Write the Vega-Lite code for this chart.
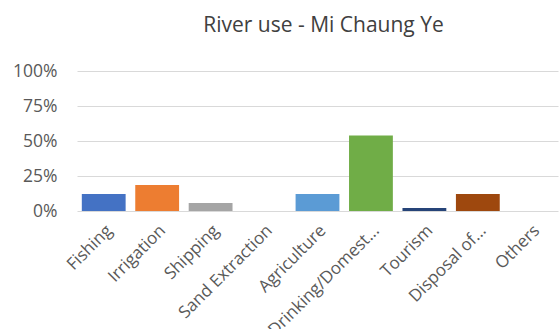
{
  "$schema": "https://vega.github.io/schema/vega-lite/v6.json",
  "autosize": {"type": "none"},
  "width": 481,
  "height": 140,
  "padding": {"left": 77, "top": 71, "right": 1, "bottom": 118},
  "background": "white",
  "title": {
    "text": "River use - Mi Chaung Ye",
    "font": "Open Sans",
    "fontSize": 21,
    "fontWeight": "normal",
    "color": "#404040",
    "anchor": "middle",
    "offset": 26,
    "dx": 6
  },
  "data": {
    "values": [
      {"use": "Fishing", "share": 0.121},
      {"use": "Irrigation", "share": 0.185},
      {"use": "Shipping", "share": 0.057},
      {"use": "Sand Extraction", "share": 0},
      {"use": "Agriculture", "share": 0.121},
      {"use": "Drinking/Domest...", "share": 0.54},
      {"use": "Tourism", "share": 0.021},
      {"use": "Disposal of...", "share": 0.121},
      {"use": "Others", "share": 0}
    ]
  },
  "mark": {"type": "bar"},
  "encoding": {
    "x": {
      "field": "use",
      "type": "nominal",
      "sort": null,
      "scale": {"paddingInner": 0.18, "paddingOuter": 0.09},
      "axis": {
        "title": null,
        "labelAngle": -45,
        "labelAlign": "right",
        "labelBaseline": "top",
        "labelFont": "Open Sans",
        "labelFontSize": 17,
        "labelColor": "#595959",
        "labelPadding": 11,
        "ticks": false,
        "domain": false,
        "labelLimit": 300,
        "labelOverlap": false
      }
    },
    "y": {
      "field": "share",
      "type": "quantitative",
      "scale": {"domain": [0, 1], "nice": false},
      "axis": {
        "title": null,
        "format": ".0%",
        "values": [0, 0.25, 0.5, 0.75, 1],
        "labelFont": "Open Sans",
        "labelFontSize": 17.5,
        "labelColor": "#595959",
        "labelPadding": 20,
        "ticks": false,
        "domain": false,
        "grid": true,
        "gridColor": "#D9D9D9",
        "gridWidth": 1
      }
    },
    "color": {
      "field": "use",
      "type": "nominal",
      "sort": null,
      "legend": null,
      "scale": {
        "domain": ["Fishing", "Irrigation", "Shipping", "Sand Extraction", "Agriculture", "Drinking/Domest...", "Tourism", "Disposal of...", "Others"],
        "range": ["#4472C4", "#ED7D31", "#A5A5A5", "#FFC000", "#5B9BD5", "#70AD47", "#264478", "#9E480E", "#636363"]
      }
    }
  },
  "config": {"view": {"stroke": null}}
}
